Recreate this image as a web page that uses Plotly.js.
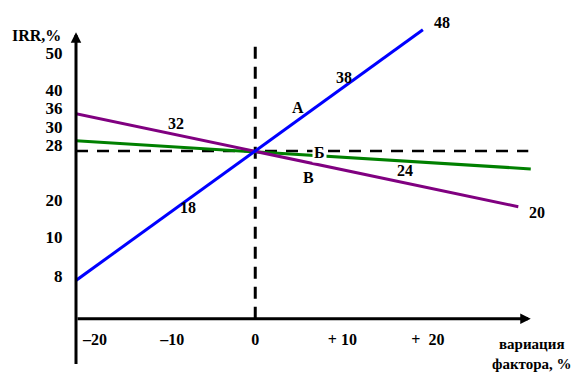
<!DOCTYPE html>
<html><head><meta charset="utf-8">
<script src="https://cdn.plot.ly/plotly-3.0.1.min.js"></script>
<style>html,body{margin:0;padding:0;background:#fff}#c{width:582px;height:376px}</style>
</head><body><div id="c"></div>
<script>
// factor variation, %  and IRR, %
const xA = [-21.6, 0, 20.2];
const yA = [6.4, 28, 48.2];
const xV = [-21.6, 0, 31.7];
const yV = [34.2, 27.9, 18.7];
const xB = [-21.6, 0, 33.2];
const yB = [29.7, 27.8, 25.0];
const baseIRR = 28;
const xTickVals = [-19.3, -10, 0, 10.5, 20.8];
const xTickText = ['–20', '–10', '0', '+ 10', '+\u00a0\u00a020'];
const yTickVals = [44.3, 38.2, 35.2, 32.0, 29.0, 19.8, 13.7, 7.2];
const yTickText = ['50', '40', '36', '30', '28', '20', '10', '8'];
const labels = [
  {x: 22.5, y: 49.5, t: '48'}, {x: 10.7, y: 40.2, t: '38'}, {x: -8.1, y: 18.5, t: '18'},
  {x: -9.5, y: 32.5, t: '32'}, {x: 18.1, y: 24.7, t: '24'}, {x: 33.9, y: 17.8, t: '20'},
  {x: 5.1, y: 35.3, t: 'А'}, {x: 7.8, y: 27.7, t: 'Б'}, {x: 6.4, y: 23.5, t: 'В'}
];
const F = 'Liberation Serif';
const xmin = -21.6, xmax = 36.0, ymin = -8.2, ymax = 50.0;

const traces = [
  {x: [xmin, 32.9], y: [baseIRR, baseIRR], mode: 'lines', line: {color: '#000', width: 2.5, dash: '12px,9px'}, hoverinfo: 'skip'},
  {x: [0, 0], y: [0, 46.5], mode: 'lines', line: {color: '#000', width: 3, dash: '12px,8px'}, hoverinfo: 'skip'},
  {x: xB, y: yB, mode: 'lines', line: {color: '#008000', width: 3}},
  {x: xV, y: yV, mode: 'lines', line: {color: '#800080', width: 3}},
  {x: xA, y: yA, mode: 'lines', line: {color: '#0000FF', width: 3}}
];

const ann = labels.map(l => ({x: l.x, y: l.y, text: l.t, showarrow: false,
  font: {family: F, size: 16, color: '#000', weight: 'bold'}, bgcolor: l.t === 'Б' ? '#fff' : 'rgba(0,0,0,0)'}));
ann.push({x: xmin, y: 47.8, ax: xmin, ay: -7.8, axref: 'x', ayref: 'y', xref: 'x', yref: 'y', text: '',
  showarrow: true, arrowhead: 2, arrowsize: 0.7, arrowwidth: 3, arrowcolor: '#000', standoff: 0, startstandoff: 0});
ann.push({x: 33.2, y: 0, ax: xmin, ay: 0, axref: 'x', ayref: 'y', xref: 'x', yref: 'y', text: '',
  showarrow: true, arrowhead: 2, arrowsize: 0.7, arrowwidth: 3, arrowcolor: '#000', standoff: 0, startstandoff: 0});
ann.push({xref: 'paper', yref: 'paper', x: -0.082, y: 0.954, xanchor: 'center', yanchor: 'middle',
  text: 'IRR,%', showarrow: false, font: {family: F, size: 16, color: '#000', weight: 'bold'}});
ann.push({x: 33.3, y: -2.6, xanchor: 'center', yanchor: 'top', text: 'вариация<br>фактора, %', showarrow: false,
  font: {family: F, size: 15, color: '#000', weight: 'bold'}, align: 'center'});

const layout = {
  width: 582, height: 376, margin: {l: 76, r: 28, t: 19, b: 8},
  paper_bgcolor: '#fff', plot_bgcolor: '#fff', showlegend: false,
  font: {family: F, color: '#000'},
  xaxis: {range: [xmin, xmax], showgrid: false, zeroline: false, showline: false,
    tickvals: xTickVals, ticktext: xTickText, ticks: 'outside', ticklen: 6, tickcolor: 'rgba(0,0,0,0)',
    anchor: 'free', position: 0.141,
    tickfont: {family: F, size: 16, color: '#000', weight: 'bold'}},
  yaxis: {range: [ymin, ymax], showgrid: false, zeroline: false, showline: false,
    tickvals: yTickVals, ticktext: yTickText, ticks: 'outside', ticklen: 9, tickcolor: 'rgba(0,0,0,0)',
    tickfont: {family: F, size: 17, color: '#000', weight: 'bold'}},
  annotations: ann
};
Plotly.newPlot('c', traces, layout, {displayModeBar: false, staticPlot: true});
</script></body></html>
